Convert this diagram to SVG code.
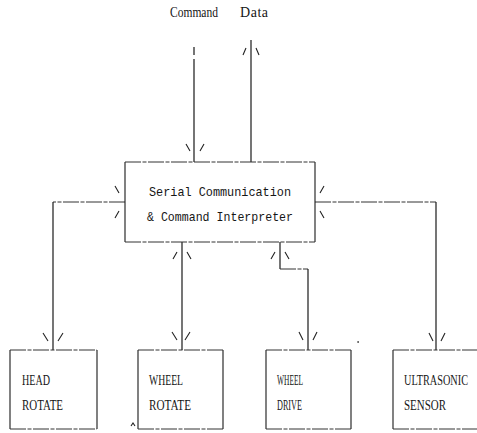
<svg xmlns="http://www.w3.org/2000/svg" width="477" height="433" viewBox="0 0 477 433">
<style>
.bg{fill:#ffffff}
.box{fill:none;stroke:#1a1a1a;stroke-width:1.1}
.boxh{fill:none;stroke:#333;stroke-width:1;stroke-dasharray:16 1.5 4 1.5}
.ln{fill:none;stroke:#1a1a1a;stroke-width:1.2}
.lh{fill:none;stroke:#333;stroke-width:1;stroke-dasharray:16 1.5 4 1.5}
.ah{fill:none;stroke:#222;stroke-width:1.1}
.mono{font-family:"Liberation Mono","DejaVu Sans Mono",monospace;font-size:13px;fill:#161616}
.serif{font-family:"Liberation Serif","DejaVu Serif",serif;font-size:14px;fill:#161616}
</style>
<rect class="bg" x="0" y="0" width="477" height="433"/>

<g id="labels-top">
<text class="serif" x="170" y="17" textLength="48" lengthAdjust="spacingAndGlyphs" font-size="12">Command</text>
<text class="serif" x="240" y="17" textLength="28" lengthAdjust="spacing" font-size="12">Data</text>
</g>

<g id="connectors">
<path class="ln" d="M194,47 V55 M194,59 V162"/>
<path class="ah" d="M186,144 L190,151 M204,144 L200,151"/>
<path class="ln" d="M251,40 V162"/>
<path class="ah" d="M246,48 L243,55 M256,48 L259,55"/>
<path class="lh" d="M125,202 H53"/>
<path class="ln" d="M53,202 V350"/>
<path class="ah" d="M115,186 L119,193 M119,211 L115,218"/>
<path class="ah" d="M43,333 L48,341 M63,333 L58,341"/>
<path class="lh" d="M315,202 H436"/>
<path class="ln" d="M436,202 V350"/>
<path class="ah" d="M324,186 L320,193 M320,211 L324,218"/>
<path class="ah" d="M429,333 L433,341 M445,333 L441,341"/>
<path class="ln" d="M182,242 V350"/>
<path class="ah" d="M177,252 L173,259 M187,252 L191,259"/>
<path class="ah" d="M172,332 L177,340 M190,332 L185,340"/>
<path class="ln" d="M280,242 V269"/>
<path class="lh" d="M280,269 H308"/>
<path class="ln" d="M308,269 V350"/>
<path class="ah" d="M275,252 L271,259 M285,252 L289,259"/>
<path class="ah" d="M299,332 L303,340 M317,332 L313,340"/>
</g>

<g id="main">
<path class="box" d="M125,162 V242 M315,162 V242"/>
<path class="boxh" d="M125,162 H315 M125,242 H315"/>
<text class="mono" x="149" y="196" textLength="142" lengthAdjust="spacingAndGlyphs">Serial Communication</text>
<text class="mono" x="147" y="221" textLength="146" lengthAdjust="spacingAndGlyphs">&amp; Command Interpreter</text>
</g>

<g id="head-rotate">
<path class="box" d="M10,350 V429 M97,350 V429"/>
<path class="boxh" d="M10,350 H97 M10,429 H97"/>
<text class="serif" x="22" y="385" textLength="28" lengthAdjust="spacingAndGlyphs">HEAD</text>
<text class="serif" x="22" y="410" textLength="41" lengthAdjust="spacingAndGlyphs">ROTATE</text>
</g>

<g id="wheel-rotate">
<path class="box" d="M138,350 V429 M223,350 V429"/>
<path class="boxh" d="M138,350 H223 M138,429 H223"/>
<text class="serif" x="149" y="385" textLength="34" lengthAdjust="spacingAndGlyphs">WHEEL</text>
<text class="serif" x="149" y="410" textLength="42" lengthAdjust="spacingAndGlyphs">ROTATE</text>
</g>

<g id="wheel-drive">
<path class="box" d="M266,350 V429 M351,350 V429"/>
<path class="boxh" d="M266,350 H351 M266,429 H351"/>
<text class="serif" x="277" y="385" textLength="26" lengthAdjust="spacingAndGlyphs">WHEEL</text>
<text class="serif" x="277" y="410" textLength="25" lengthAdjust="spacingAndGlyphs">DRIVE</text>
</g>

<g id="ultrasonic-sensor">
<path class="box" d="M393,350 V429"/>
<path class="boxh" d="M393,350 H477 M393,429 H477"/>
<text class="serif" x="404" y="385" font-size="11" textLength="64" lengthAdjust="spacingAndGlyphs">ULTRASONIC</text>
<text class="serif" x="404" y="410" textLength="42" lengthAdjust="spacingAndGlyphs">SENSOR</text>
</g>

<g id="specks">
<path class="ah" d="M131,426 L133,423 L135,426"/>
<rect x="357.5" y="341" width="1.2" height="2" fill="#333"/>
</g>
</svg>
